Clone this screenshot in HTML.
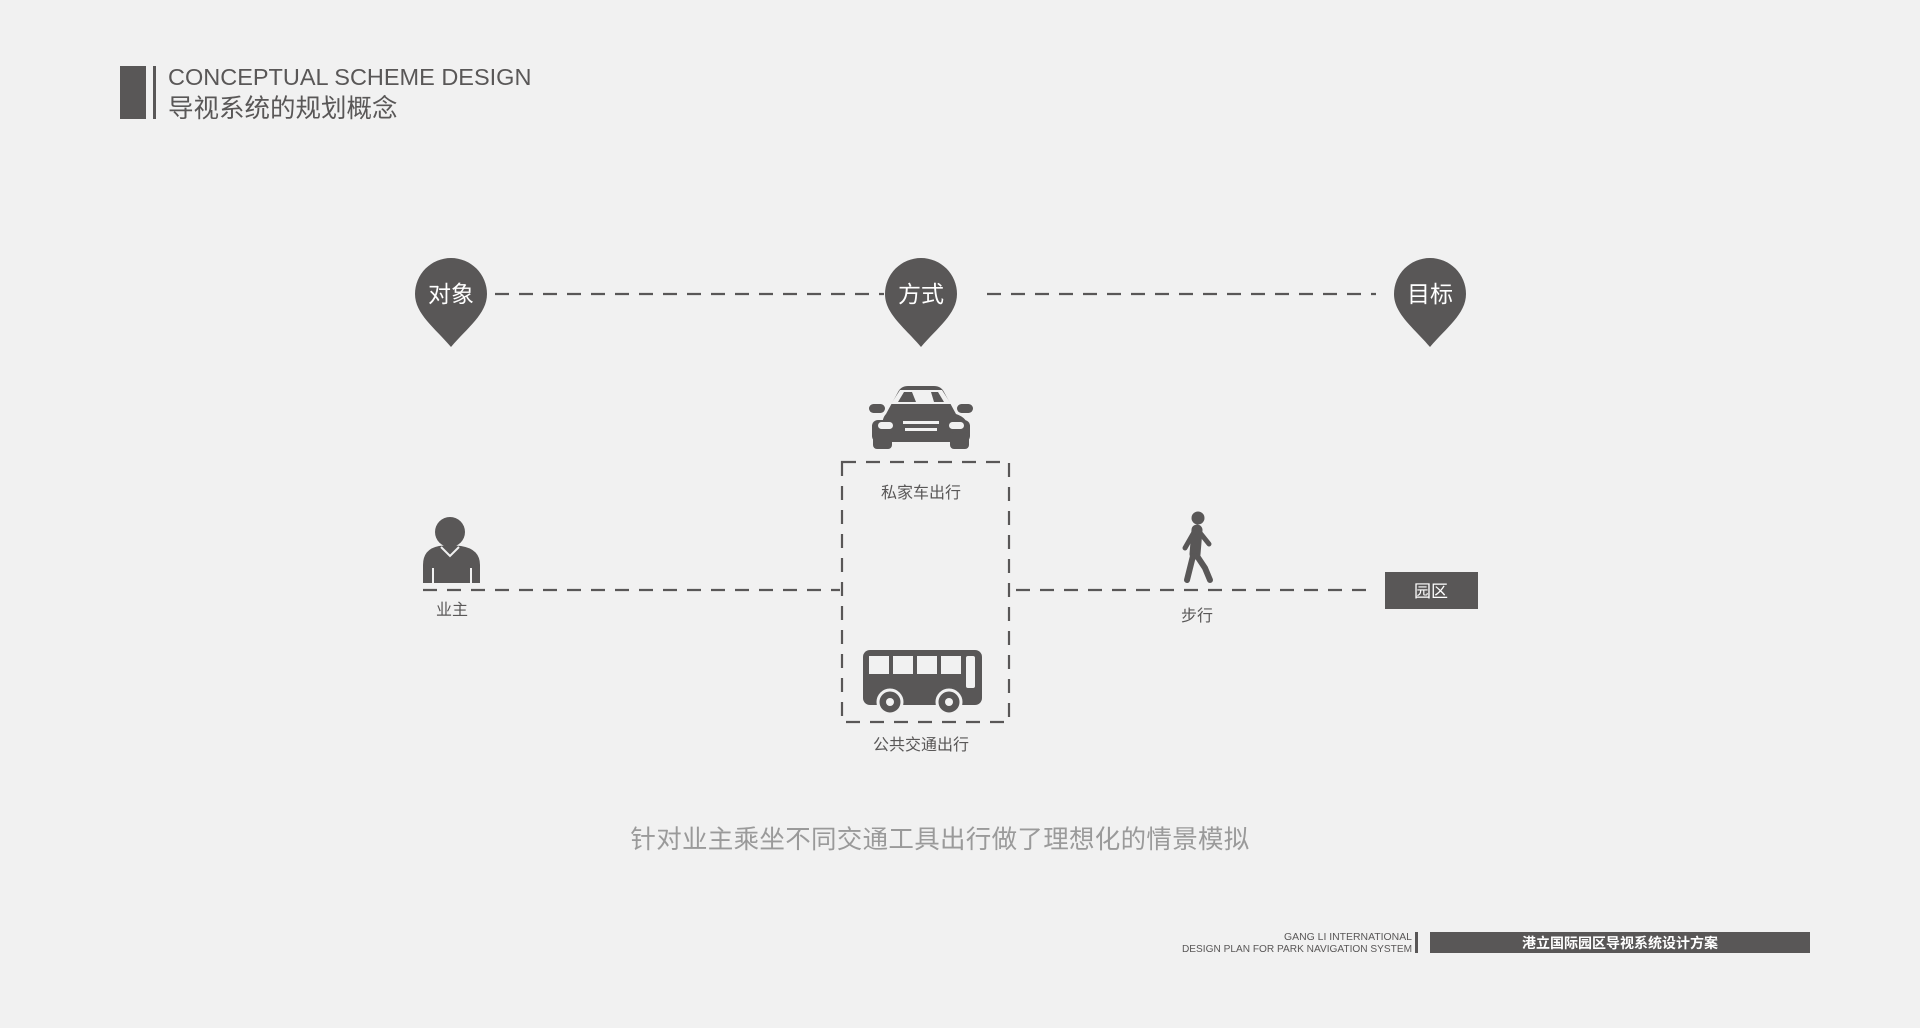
<!DOCTYPE html>
<html><head><meta charset="utf-8"><style>
html,body{margin:0;padding:0;background:#f1f1f1;}
body{width:1920px;height:1023px;overflow:hidden;}
</style></head><body>
<svg width="1920" height="1023" xmlns="http://www.w3.org/2000/svg" font-family="'Liberation Sans','Noto Sans CJK SC',sans-serif">
<rect width="1920" height="1023" fill="#f1f1f1"/>
<rect x="120" y="66" width="26" height="53" fill="#595757"/>
<rect x="153" y="66" width="3" height="53" fill="#595757"/>
<text x="168" y="85" font-size="23.5" fill="#595757">CONCEPTUAL SCHEME DESIGN</text>
<text x="168" y="117" font-size="25.5" fill="#595757">导视系统的规划概念</text>

<g stroke="#595757" stroke-width="2.2" stroke-dasharray="14,10" fill="none">
<line x1="495" y1="294" x2="884" y2="294"/>
<line x1="987" y1="294" x2="1376" y2="294"/>
<line x1="423" y1="590" x2="840" y2="590"/>
<line x1="1016" y1="590" x2="1376" y2="590"/>
<rect x="842" y="462" width="167" height="260"/>
</g>

<g fill="#595757">
<path d="M415,294 a36,36 0 1 1 72,0 c0,20 -20,34 -36,53 c-16,-19 -36,-33 -36,-53z"/>
<path d="M885,294 a36,36 0 1 1 72,0 c0,20 -20,34 -36,53 c-16,-19 -36,-33 -36,-53z"/>
<path d="M1394,294 a36,36 0 1 1 72,0 c0,20 -20,34 -36,53 c-16,-19 -36,-33 -36,-53z"/>
</g>
<g fill="#fff" font-size="23" text-anchor="middle">
<text x="451" y="302">对象</text>
<text x="921" y="302">方式</text>
<text x="1430" y="302">目标</text>
</g>

<!-- car -->
<g fill="#595757">
<path d="M886,414 l12,-22 q3,-6 10,-6 h26 q7,0 10,6 l12,22 q12,4 12,14 v12 h-86 v-12 q0,-10 4,-14z"/>
<rect x="869" y="404" width="16" height="9" rx="4.5"/>
<rect x="957" y="404" width="16" height="9" rx="4.5"/>
<rect x="872" y="420" width="98" height="22" rx="6"/>
<rect x="873" y="432" width="19" height="17" rx="4"/>
<rect x="950" y="432" width="19" height="17" rx="4"/>
</g>
<g fill="#f1f1f1">
<path d="M891,404 l9,-14 h42 l9,14z"/>
<rect x="878" y="422" width="15" height="7" rx="3.5"/>
<rect x="949" y="422" width="15" height="7" rx="3.5"/>
<rect x="903" y="421" width="36" height="3"/>
<rect x="905" y="428" width="32" height="3"/>
</g>
<path d="M898,402 l6,-10 h8 l4,10z M934,402 l-3,-10 h7 l6,10z" fill="#595757"/>
<text x="921" y="498" font-size="16" fill="#595757" text-anchor="middle">私家车出行</text>

<!-- bus -->
<rect x="863" y="650" width="119" height="55" rx="7" fill="#595757"/>
<g fill="#f1f1f1">
<rect x="869" y="656" width="20" height="18"/>
<rect x="893" y="656" width="20" height="18"/>
<rect x="917" y="656" width="20" height="18"/>
<rect x="941" y="656" width="20" height="18"/>
<rect x="966" y="656" width="9" height="32" rx="2"/>
</g>
<circle cx="890" cy="702" r="12" fill="#595757" stroke="#f1f1f1" stroke-width="3"/>
<circle cx="890" cy="702" r="4" fill="#f1f1f1"/>
<circle cx="949" cy="702" r="12" fill="#595757" stroke="#f1f1f1" stroke-width="3"/>
<circle cx="949" cy="702" r="4" fill="#f1f1f1"/>
<text x="921" y="750" font-size="16" fill="#595757" text-anchor="middle">公共交通出行</text>

<!-- person -->
<circle cx="450" cy="532" r="15" fill="#595757"/>
<path d="M423,583 v-18 q0,-16 16,-19 l11,-1 l11,1 q19,3 19,19 v18z" fill="#595757"/>
<path d="M441,547 l9,9 l9,-9" fill="none" stroke="#f1f1f1" stroke-width="2"/>
<line x1="433" y1="568" x2="433" y2="584" stroke="#f1f1f1" stroke-width="2"/>
<line x1="471" y1="568" x2="471" y2="584" stroke="#f1f1f1" stroke-width="2"/>
<text x="452" y="615" font-size="16" fill="#595757" text-anchor="middle">业主</text>

<!-- walker -->
<circle cx="1198" cy="518" r="6.5" fill="#595757"/>
<g stroke="#595757" stroke-linecap="round" fill="none">
<path d="M1197,530 l-2,24" stroke-width="11"/>
<path d="M1193,534 l-8,14" stroke-width="5"/>
<path d="M1201,534 l8,10" stroke-width="5"/>
<path d="M1193,556 l-6,24" stroke-width="6"/>
<path d="M1197,556 l8,12 l5,12" stroke-width="6"/>
</g>
<text x="1197" y="621" font-size="16" fill="#595757" text-anchor="middle">步行</text>

<rect x="1385" y="572" width="93" height="37" fill="#595757"/>
<text x="1431" y="597" font-size="17" fill="#fff" text-anchor="middle">园区</text>

<text x="940" y="848" font-size="25.5" fill="#9a9a9a" text-anchor="middle" letter-spacing="0.3">针对业主乘坐不同交通工具出行做了理想化的情景模拟</text>

<text x="1412" y="940" font-size="10" fill="#595757" text-anchor="end" textLength="128" lengthAdjust="spacingAndGlyphs">GANG LI INTERNATIONAL</text>
<text x="1412" y="952" font-size="10" fill="#595757" text-anchor="end" textLength="230" lengthAdjust="spacingAndGlyphs">DESIGN PLAN FOR PARK NAVIGATION SYSTEM</text>
<rect x="1415" y="932" width="3" height="21" fill="#595757"/>
<rect x="1430" y="932" width="380" height="21" fill="#595757"/>
<text x="1620" y="948" font-size="14" font-weight="bold" fill="#fff" text-anchor="middle">港立国际园区导视系统设计方案</text>
</svg>
</body></html>
